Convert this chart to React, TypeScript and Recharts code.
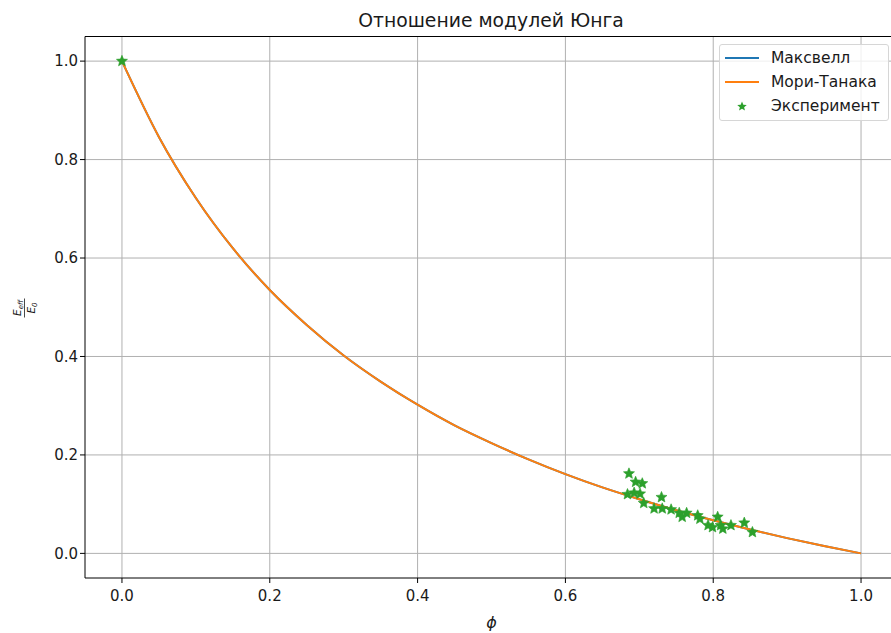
import { ComposedChart, Line, Scatter, XAxis, YAxis, CartesianGrid, Legend } from 'recharts';

const phi = [0, 0.05, 0.1, 0.15, 0.2, 0.25, 0.3, 0.35, 0.4, 0.45, 0.5, 0.55, 0.6, 0.65, 0.7, 0.75, 0.8, 0.85, 0.9, 0.95, 1.0];
const maxwell = [1.0, 0.846, 0.722, 0.62, 0.535, 0.464, 0.402, 0.349, 0.302, 0.26, 0.224, 0.191, 0.161, 0.134, 0.11, 0.0876, 0.0672, 0.0484, 0.031, 0.0149, 0];
const moriTanaka = [1.0, 0.846, 0.722, 0.62, 0.535, 0.464, 0.402, 0.349, 0.302, 0.26, 0.224, 0.191, 0.161, 0.134, 0.11, 0.0876, 0.0672, 0.0484, 0.031, 0.0149, 0];

const expPhi = [0, 0.686, 0.695, 0.704, 0.684, 0.693, 0.701, 0.706, 0.73, 0.72, 0.731, 0.743, 0.754, 0.758, 0.764, 0.779, 0.782, 0.793, 0.799, 0.806, 0.81, 0.813, 0.824, 0.842, 0.853];
const expE = [1.0, 0.162, 0.145, 0.142, 0.12, 0.123, 0.121, 0.102, 0.114, 0.091, 0.091, 0.089, 0.082, 0.074, 0.082, 0.077, 0.07, 0.057, 0.053, 0.074, 0.057, 0.05, 0.057, 0.062, 0.043];

const xTicks = [0, 0.2, 0.4, 0.6, 0.8, 1.0];
const yTicks = [0, 0.2, 0.4, 0.6, 0.8, 1.0];

const curveData = phi.map((p, i) => ({ phi: p, maxwell: maxwell[i], mori: moriTanaka[i] }));
const expData = expPhi.map((p, i) => ({ phi: p, e: expE[i] }));

const FONT = 'DejaVu Sans, sans-serif';
const TEXT = '#1a1a1a';

function starPath(cx: number, cy: number, r: number) {
  const pts: string[] = [];
  for (let k = 0; k < 10; k++) {
    const rr = k % 2 === 0 ? r : r * 0.45;
    const a = -Math.PI / 2 + (k * Math.PI) / 5;
    pts.push(`${cx + rr * Math.cos(a)},${cy + rr * Math.sin(a)}`);
  }
  return `M${pts.join('L')}Z`;
}

const Star = (props: any) => {
  const { cx, cy } = props;
  if (cx == null || cy == null) return null;
  return <path d={starPath(cx, cy, 5.8)} fill="#2ca02c" stroke="#2ca02c" strokeWidth={0.6} />;
};

const legendItems = [
  { name: 'Максвелл', color: '#1f77b4', kind: 'line' },
  { name: 'Мори-Танака', color: '#ff7f0e', kind: 'line' },
  { name: 'Эксперимент', color: '#2ca02c', kind: 'star' },
];

const LegendBox = () => (
  <div
    style={{
      position: 'absolute',
      left: 719,
      top: 44,
      width: 168,
      height: 75,
      border: '1px solid #d6d6d6',
      borderRadius: 3,
      background: 'rgba(255,255,255,0.8)',
      fontFamily: FONT,
      fontSize: 15.5,
      color: TEXT,
    }}
  >
    {legendItems.map((it, i) => (
      <div key={it.name} style={{ position: 'absolute', left: 5, top: 3 + i * 24, height: 20, display: 'flex', alignItems: 'center', whiteSpace: 'nowrap' }}>
        <svg width={36} height={20}>
          {it.kind === 'line' ? (
            <line x1={0} y1={10} x2={34} y2={10} stroke={it.color} strokeWidth={2} />
          ) : (
            <path d={starPath(17, 10.5, 5)} fill={it.color} />
          )}
        </svg>
        <span style={{ marginLeft: 10 }}>{it.name}</span>
      </div>
    ))}
  </div>
);

const Title = () => (
  <text x={491} y={26.5} textAnchor="middle" fontFamily={FONT} fontSize={18.8} fill={TEXT}>
    Отношение модулей Юнга
  </text>
);

const YLabel = () => (
  <g transform="translate(24, 308) rotate(-90)" fontFamily={FONT} fill={TEXT}>
    <text x={0} y={-3} textAnchor="middle" fontSize={10.5} fontStyle="italic">
      E<tspan fontSize={7} dy={2}>eff</tspan>
    </text>
    <line x1={-9.5} y1={0.5} x2={9.5} y2={0.5} stroke={TEXT} strokeWidth={0.8} />
    <text x={0} y={10.5} textAnchor="middle" fontSize={10.5} fontStyle="italic">
      E<tspan fontSize={7} dy={2}>0</tspan>
    </text>
  </g>
);

export default function App() {
  return (
    <div style={{ position: 'absolute', left: 0, top: 0, width: 891, height: 633, overflow: 'hidden', background: '#fff' }}>
      <ComposedChart
        width={900}
        height={633}
        data={curveData}
        margin={{ top: 36.5, right: 2, bottom: 0, left: 0 }}
        style={{ position: 'absolute', left: 0, top: 0 }}
      >
        <CartesianGrid stroke="#b0b0b0" strokeWidth={1} horizontalValues={yTicks} verticalValues={xTicks} />
        <XAxis
          type="number"
          dataKey="phi"
          domain={[-0.05, 1.05]}
          ticks={xTicks}
          tickFormatter={(v: number) => v.toFixed(1)}
          height={55}
          tick={{ fill: TEXT, fontSize: 15, fontFamily: FONT, dy: 5 }}
          tickLine={{ stroke: '#000' }}
          tickSize={5}
          axisLine={{ stroke: '#000' }}
          allowDataOverflow
          label={{ value: 'ϕ', position: 'insideBottom', offset: 5, fontSize: 16, fontStyle: 'italic', fontFamily: FONT, fill: TEXT }}
        />
        <YAxis
          type="number"
          domain={[-0.05, 1.05]}
          ticks={yTicks}
          tickFormatter={(v: number) => v.toFixed(1)}
          width={85}
          tick={{ fill: TEXT, fontSize: 15, fontFamily: FONT }}
          tickLine={{ stroke: '#000' }}
          tickSize={5}
          axisLine={{ stroke: '#000' }}
          allowDataOverflow
        />
        <Line type="monotone" dataKey="maxwell" stroke="#1f77b4" strokeWidth={2} dot={false} isAnimationActive={false} />
        <Line type="monotone" dataKey="mori" stroke="#ff7f0e" strokeWidth={2} dot={false} isAnimationActive={false} />
        <Scatter data={expData} dataKey="e" fill="#2ca02c" shape={<Star />} isAnimationActive={false} />
        <Legend content={() => null} />
        <Title />
        <YLabel />
      </ComposedChart>
      <div style={{ position: 'absolute', left: 85, top: 36, width: 812, height: 541, borderTop: '1px solid #000', pointerEvents: 'none' }} />
      <LegendBox />
    </div>
  );
}
